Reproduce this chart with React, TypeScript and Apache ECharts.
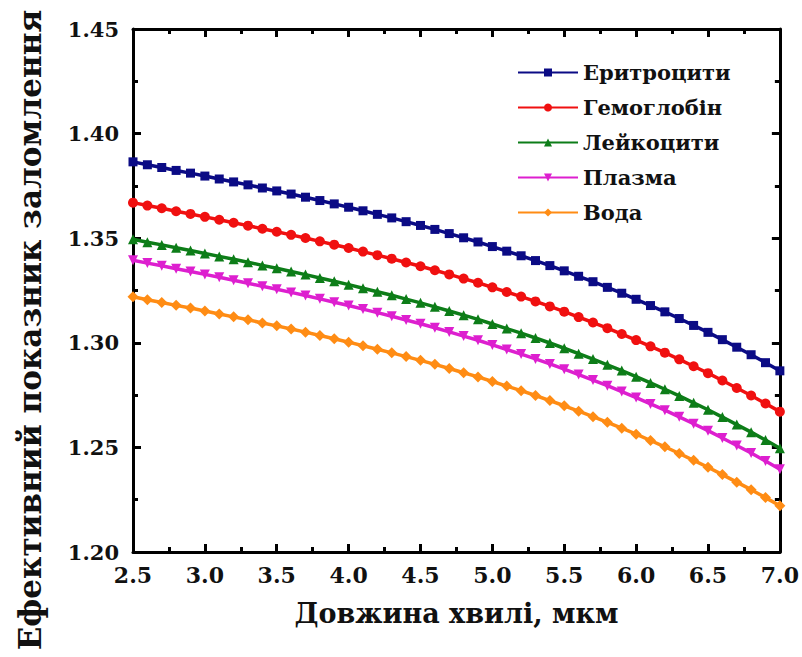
import React, { useEffect, useRef } from "react";
import * as echarts from "echarts";

const wavelengths = [
  2.5, 2.6, 2.7, 2.8, 2.9, 3.0, 3.1, 3.2, 3.3, 3.4, 3.5, 3.6, 3.7, 3.8, 3.9, 4.0,
  4.1, 4.2, 4.3, 4.4, 4.5, 4.6, 4.7, 4.8, 4.9, 5.0, 5.1, 5.2, 5.3, 5.4, 5.5, 5.6,
  5.7, 5.8, 5.9, 6.0, 6.1, 6.2, 6.3, 6.4, 6.5, 6.6, 6.7, 6.8, 6.9, 7.0,
];

const erythrocytes = [
  1.3865, 1.3851, 1.3838, 1.3824, 1.3811, 1.3797, 1.3783, 1.3769, 1.3755, 1.374, 1.3726, 1.3711,
  1.3696, 1.368, 1.3664, 1.3648, 1.3631, 1.3614, 1.3597, 1.3579, 1.3561, 1.3542, 1.3522, 1.3502,
  1.3482, 1.346, 1.3438, 1.3416, 1.3393, 1.3369, 1.3344, 1.3318, 1.3292, 1.3265, 1.3237, 1.3208,
  1.3178, 1.3148, 1.3116, 1.3083, 1.305, 1.3015, 1.2979, 1.2943, 1.2905, 1.2866,
];

const hemoglobin = [
  1.367, 1.3656, 1.3643, 1.3629, 1.3616, 1.3602, 1.3588, 1.3574, 1.356, 1.3545, 1.3531, 1.3516,
  1.3501, 1.3485, 1.3469, 1.3453, 1.3436, 1.3419, 1.3402, 1.3384, 1.3366, 1.3347, 1.3327, 1.3307,
  1.3287, 1.3265, 1.3243, 1.3221, 1.3198, 1.3174, 1.3149, 1.3123, 1.3097, 1.307, 1.3042, 1.3013,
  1.2983, 1.2953, 1.2921, 1.2888, 1.2855, 1.282, 1.2784, 1.2748, 1.271, 1.2671,
];

const leukocytes = [
  1.3495, 1.3481, 1.3468, 1.3454, 1.3441, 1.3427, 1.3413, 1.3399, 1.3385, 1.337, 1.3356, 1.3341,
  1.3326, 1.331, 1.3294, 1.3278, 1.3261, 1.3244, 1.3227, 1.3209, 1.3191, 1.3172, 1.3152, 1.3132,
  1.3112, 1.309, 1.3068, 1.3046, 1.3023, 1.2999, 1.2974, 1.2948, 1.2922, 1.2895, 1.2867, 1.2838,
  1.2808, 1.2778, 1.2746, 1.2713, 1.268, 1.2645, 1.2609, 1.2573, 1.2535, 1.2496,
];

const plasma = [
  1.3395, 1.3381, 1.3368, 1.3354, 1.3341, 1.3327, 1.3313, 1.3299, 1.3285, 1.327, 1.3256, 1.3241,
  1.3226, 1.321, 1.3194, 1.3178, 1.3161, 1.3144, 1.3127, 1.3109, 1.3091, 1.3072, 1.3052, 1.3032,
  1.3012, 1.299, 1.2968, 1.2946, 1.2923, 1.2899, 1.2874, 1.2848, 1.2822, 1.2795, 1.2767, 1.2738,
  1.2708, 1.2678, 1.2646, 1.2613, 1.258, 1.2545, 1.2509, 1.2473, 1.2435, 1.2396,
];

const water = [
  1.322, 1.3206, 1.3193, 1.3179, 1.3166, 1.3152, 1.3138, 1.3124, 1.311, 1.3095, 1.3081, 1.3066,
  1.3051, 1.3035, 1.3019, 1.3003, 1.2986, 1.2969, 1.2952, 1.2934, 1.2916, 1.2897, 1.2877, 1.2857,
  1.2837, 1.2815, 1.2793, 1.2771, 1.2748, 1.2724, 1.2699, 1.2673, 1.2647, 1.262, 1.2592, 1.2563,
  1.2533, 1.2503, 1.2471, 1.2438, 1.2405, 1.237, 1.2334, 1.2298, 1.226, 1.2221,
];

const seriesNames = ["Еритроцити", "Гемоглобін", "Лейкоцити", "Плазма", "Вода"];
const seriesColors = ["#0b0b85", "#f01010", "#0d7d18", "#dd1fcf", "#ff8c14"];
const seriesSymbols = ["rect", "circle", "triangle", "triangle", "diamond"];
const seriesRotations = [0, 0, 0, 180, 0];
const seriesSymbolSizes = [9, 10, 10, 10, 11];
const seriesValues = [erythrocytes, hemoglobin, leukocytes, plasma, water];

const xAxisTitle = "Довжина хвилі, мкм";
const yAxisTitle = "Ефективний показник заломлення";

const FONT = "DejaVu Serif";

export default function App() {
  const ref = useRef<HTMLDivElement>(null);

  useEffect(() => {
    document.body.style.margin = "0";
    if (!ref.current) return;
    const chart = echarts.init(ref.current, undefined, { renderer: "svg" });

    const axisLine = { show: true, onZero: false, lineStyle: { color: "#000", width: 3 } };
    const axisTick = { show: true, inside: true, length: 8, lineStyle: { color: "#000", width: 3 } };
    const minorTick = { show: true, splitNumber: 2, length: 5, lineStyle: { color: "#000", width: 3 } };

    const series = seriesNames.map((name, i) => ({
      name,
      type: "line",
      data: wavelengths.map((x, j) => [x, seriesValues[i][j]]),
      symbol: seriesSymbols[i],
      symbolRotate: seriesRotations[i],
      symbolSize: seriesSymbolSizes[i],
      showAllSymbol: true,
      color: seriesColors[i],
      lineStyle: { width: 3.5, color: seriesColors[i] },
      itemStyle: { color: seriesColors[i] },
      xAxisIndex: 0,
      yAxisIndex: 0,
    }));

    chart.setOption({
      animation: false,
      backgroundColor: "#fff",
      grid: { left: 133, right: 21, top: 29, bottom: 105, containLabel: false },
      legend: {
        orient: "vertical",
        left: 512,
        top: 57,
        itemWidth: 60,
        itemHeight: 10,
        itemGap: 14,
        textStyle: { fontFamily: FONT, fontWeight: "bold", fontSize: 21, color: "#111" },
        data: seriesNames,
      },
      graphic: [
        {
          type: "text",
          x: 30,
          y: 330,
          rotation: Math.PI / 2,
          style: {
            text: yAxisTitle,
            fontFamily: FONT,
            fontWeight: "bold",
            fontSize: 31,
            fill: "#111",
            align: "center",
            verticalAlign: "middle",
          },
        },
      ],
      xAxis: [
        {
          type: "value",
          min: 2.5,
          max: 7.0,
          interval: 0.5,
          position: "bottom",
          axisLine,
          axisTick,
          minorTick,
          splitLine: { show: false },
          axisLabel: {
            margin: 12,
            fontFamily: FONT,
            fontWeight: "bold",
            fontSize: 22,
            color: "#111",
            formatter: (v: number) => v.toFixed(1),
          },
          name: xAxisTitle,
          nameLocation: "middle",
          nameGap: 48,
          nameTextStyle: { fontFamily: FONT, fontWeight: "bold", fontSize: 27, color: "#111" },
        },
        {
          type: "value",
          min: 2.5,
          max: 7.0,
          interval: 0.5,
          position: "top",
          axisLine,
          axisTick,
          minorTick,
          splitLine: { show: false },
          axisLabel: { show: false },
        },
      ],
      yAxis: [
        {
          type: "value",
          min: 1.2,
          max: 1.45,
          interval: 0.05,
          position: "left",
          axisLine,
          axisTick,
          minorTick,
          splitLine: { show: false },
          axisLabel: {
            margin: 14,
            fontFamily: FONT,
            fontWeight: "bold",
            fontSize: 21,
            color: "#111",
            formatter: (v: number) => v.toFixed(2),
          },
        },
        {
          type: "value",
          min: 1.2,
          max: 1.45,
          interval: 0.05,
          position: "right",
          axisLine,
          axisTick,
          minorTick,
          splitLine: { show: false },
          axisLabel: { show: false },
        },
      ],
      series,
    });

    return () => chart.dispose();
  }, []);

  return <div ref={ref} style={{ width: 802, height: 657 }} />;
}
